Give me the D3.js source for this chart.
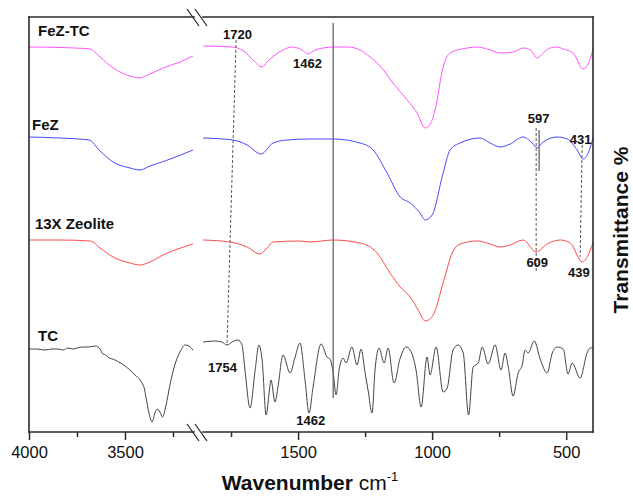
<!DOCTYPE html>
<html>
<head>
<meta charset="utf-8">
<script src="https://cdn.jsdelivr.net/npm/d3@7/dist/d3.min.js"></script>
<style>
  html, body { margin: 0; padding: 0; background: #fff; }
  svg { display: block; font-family: "Liberation Sans", Arial, Helvetica, sans-serif; }
</style>
</head>
<body>
<svg id="chart" width="633" height="496"></svg>
<script>
// ---------------- DATA (wavenumber cm-1, stacked transmittance a.u.) ----------------
const fezTc = [
  [4000,385],[3839,384.5],[3682,383],[3630,375],[3562,364],[3516,359],[3474,356],[3427,354],
  [3370,358],[3302,364],[3214,370],[3146,376],
  [1854,386],[1746,385],[1698,380],[1668,372],[1634,365],[1616,370],[1586,377],[1556,382],
  [1522,385],[1485,382],[1463,378],[1437,382],[1407,384],[1362,385],[1313,385],[1269,382],
  [1231,375],[1194,366],[1146,349],[1093,332],[1056,319],[1026,304],[1007,308],[989,322],
  [959,365],[933,379],[869,384],[832,385],[784,382],[746,379],[698,380],[661,384],[634,382],
  [608,374],[586,379],[560,384],[534,385],[511,383],[474,379],[437,363],[418,368],[399,384]
];
const fez = [
  [4000,295],[3839,294],[3687,292],[3630,281],[3562,270],[3474,264],[3422,262],[3370,266],
  [3292,271],[3146,282],
  [1854,294],[1743,292],[1690,287],[1638,278],[1593,289],[1541,292],[1455,293],[1369,293],
  [1269,289],[1220,282],[1168,259],[1119,235],[1082,229],[1045,219],[1026,212],[1000,217],
  [959,259],[933,282],[896,289],[821,294],[784,289],[746,285],[709,288],[661,295],[627,289],
  [608,284],[586,290],[534,295],[496,293],[459,282],[437,273],[418,279],[399,295]
];
const zeolite13x = [
  [4000,192],[3839,192],[3680,191],[3630,184],[3562,175],[3474,169],[3422,167],[3370,170],
  [3302,177],[3146,188],
  [1854,192],[1754,190],[1690,185],[1642,178],[1616,184],[1593,190],[1493,191],[1455,190],
  [1369,192],[1269,189],[1205,179],[1157,159],[1119,145],[1082,135],[1052,122],[1026,111],
  [996,117],[959,149],[925,179],[896,188],[832,191],[795,189],[746,185],[709,187],[661,192],
  [612,180],[571,188],[522,192],[485,189],[440,170],[418,177],[399,190]
];
const tc = [
  [4000,83],[3960,83],[3917,82],[3880,83],[3850,83],[3820,82],[3800,84],[3770,83],[3750,84],
  [3720,85],[3690,85],[3656,86],[3640,85],[3630,83],[3615,78],[3600,77],[3589,75],[3552,72],
  [3500,66],[3448,57],[3411,49],[3400,44],[3391,35],[3375,19],[3359,10],[3344,19],[3331,23],
  [3318,20],[3305,15],[3286,27],[3266,47],[3245,64],[3214,80],[3187,87],[3167,86],[3146,82],
  [1854,90],[1810,91],[1784,90],[1765,87],[1746,90],[1724,92],[1709,87],[1698,62],[1679,24],
  [1660,62],[1646,87],[1634,72],[1619,17],[1608,39],[1601,52],[1586,30],[1575,45],[1556,77],
  [1530,59],[1511,75],[1493,89],[1474,52],[1459,19],[1444,45],[1414,88],[1392,75],[1381,73],
  [1369,59],[1358,37],[1347,62],[1332,74],[1321,69],[1299,85],[1280,67],[1265,83],[1250,59],
  [1239,42],[1224,19],[1213,62],[1198,84],[1179,69],[1164,84],[1142,49],[1119,74],[1097,85],
  [1082,82],[1060,62],[1041,25],[1019,75],[1008,57],[985,85],[959,40],[944,44],[922,82],
  [903,87],[884,79],[864,17],[847,65],[828,69],[813,85],[791,68],[765,87],[743,62],[728,79],
  [716,65],[698,36],[679,59],[664,67],[653,82],[642,79],[619,91],[597,73],[571,59],[552,79],
  [534,85],[511,83],[493,58],[478,69],[448,54],[422,79],[410,84],[399,84]
];

const seriesNames  = ["FeZ-TC", "FeZ", "13X Zeolite", "TC"];
const seriesColors = ["#ff55ff", "#4848ff", "#ff4a4a", "#444444"];
const seriesData   = [fezTc, fez, zeolite13x, tc];
const seriesLabelPos = [[3953,396],[3984,302],[3969,203],[3953,91]];

const majorTicksLeft  = [4000, 3500];
const minorTicksLeft  = [3750, 3250];
const majorTicksRight = [1500, 1000, 500];
const minorTicksRight = [1750, 1250, 750];

// peak annotations: [text, wavenumber, T]
const peakLabels = [
  ["1720",1726,393],["1462",1465,364],["597",603,309],["431",446,288],
  ["609",608,165],["439",453,155],["1754",1782,60],["1462",1453,7]
];
// dashed guide lines: [w1,t1,w2,t2]
const dashedLines = [[1731,392,1765,87],[612,304,612,159],[440,292,448,175]];
// solid marker lines: [w1,t1,w2,t2]
const solidLines = [[1369,409,1369,34],[601,302,601,261]];

// ---------------- LAYOUT ----------------
const svg = d3.select("#chart");
const pL = 29, pR = 593, pT = 17, pB = 432;
const xL = d3.scaleLinear().domain([4000, 3125]).range([29, 197]);
const xR = d3.scaleLinear().domain([1862, 400]).range([201, 593]);
const y = d3.scaleLinear().domain([0, 415]).range([pB, pT]);
const xAny = w => (w > 2500 ? xL(w) : xR(w));

// curves
const line = d3.line().x(d => xAny(d[0])).y(d => y(d[1])).curve(d3.curveMonotoneX);
seriesData.forEach((data, i) => {
  const segL = data.filter(d => d[0] > 2500);
  const segR = data.filter(d => d[0] <= 2500);
  [segL, segR].forEach(seg => {
    svg.append("path").attr("d", line(seg)).attr("fill", "none")
      .attr("stroke", seriesColors[i]).attr("stroke-width", 1);
  });
});

// guide lines
dashedLines.forEach(d => {
  svg.append("line").attr("x1", xAny(d[0])).attr("y1", y(d[1]))
    .attr("x2", xAny(d[2])).attr("y2", y(d[3]))
    .attr("stroke", "#555").attr("stroke-width", 1).attr("stroke-dasharray", "3,2");
});
solidLines.forEach(d => {
  svg.append("line").attr("x1", xAny(d[0])).attr("y1", y(d[1]))
    .attr("x2", xAny(d[2])).attr("y2", y(d[3]))
    .attr("stroke", "#666").attr("stroke-width", 1.3);
});

// frame
const fc = "#2a2a2a", fw = 1.6;
const gapA = 194, gapB = 203;
[[pL, pT, gapA, pT], [gapB, pT, pR, pT], [pL, pB, gapA, pB], [gapB, pB, pR, pB],
 [pL, pT, pL, pB], [pR, pT, pR, pB]].forEach(s => {
  svg.append("line").attr("x1", s[0]).attr("y1", s[1]).attr("x2", s[2]).attr("y2", s[3])
    .attr("stroke", fc).attr("stroke-width", fw).attr("stroke-linecap", "square");
});
// break marks
[pT, pB].forEach(yy => {
  [0, 8].forEach(off => {
    svg.append("line").attr("x1", 187 + off).attr("y1", yy - 8)
      .attr("x2", 199 + off).attr("y2", yy + 9)
      .attr("stroke", fc).attr("stroke-width", 1.3);
  });
});

// axes
function drawAxis(scale, majors, minors) {
  const gMaj = svg.append("g").attr("transform", `translate(0,${pB})`)
    .call(d3.axisBottom(scale).tickValues(majors).tickSize(8).tickPadding(6).tickFormat(d3.format("d")));
  gMaj.select(".domain").remove();
  gMaj.selectAll(".tick line").attr("stroke", fc).attr("stroke-width", 1.5);
  gMaj.selectAll(".tick text").attr("font-size", 16.5).attr("fill", "#111")
    .attr("font-family", "'Liberation Sans', Arial, sans-serif");
  const gMin = svg.append("g").attr("transform", `translate(0,${pB})`)
    .call(d3.axisBottom(scale).tickValues(minors).tickSize(5).tickFormat(""));
  gMin.select(".domain").remove();
  gMin.selectAll(".tick line").attr("stroke", fc).attr("stroke-width", 1.5);
}
drawAxis(xL, majorTicksLeft, minorTicksLeft);
drawAxis(xR, majorTicksRight, minorTicksRight);

// series labels
seriesNames.forEach((n, i) => {
  svg.append("text").attr("x", xL(seriesLabelPos[i][0])).attr("y", y(seriesLabelPos[i][1]))
    .attr("font-size", 15).attr("font-weight", "bold").attr("fill", "#111").text(n);
});

// peak labels
peakLabels.forEach(p => {
  svg.append("text").attr("x", xAny(p[1])).attr("y", y(p[2]))
    .attr("text-anchor", "middle").attr("font-size", 13).attr("font-weight", "bold")
    .attr("fill", "#111").text(p[0]);
});

// axis titles
const xt = svg.append("text").attr("x", 310).attr("y", 490).attr("text-anchor", "middle")
  .attr("fill", "#111").attr("font-size", 21);
xt.append("tspan").attr("font-weight", "bold").text("Wavenumber");
xt.append("tspan").text(" cm");
xt.append("tspan").attr("font-size", 13).attr("dy", -9).text("-1");

svg.append("text").attr("transform", "translate(628,230) rotate(-90)")
  .attr("text-anchor", "middle").attr("font-size", 21).attr("font-weight", "bold")
  .attr("fill", "#111").text("Transmittance %");
</script>
</body>
</html>
